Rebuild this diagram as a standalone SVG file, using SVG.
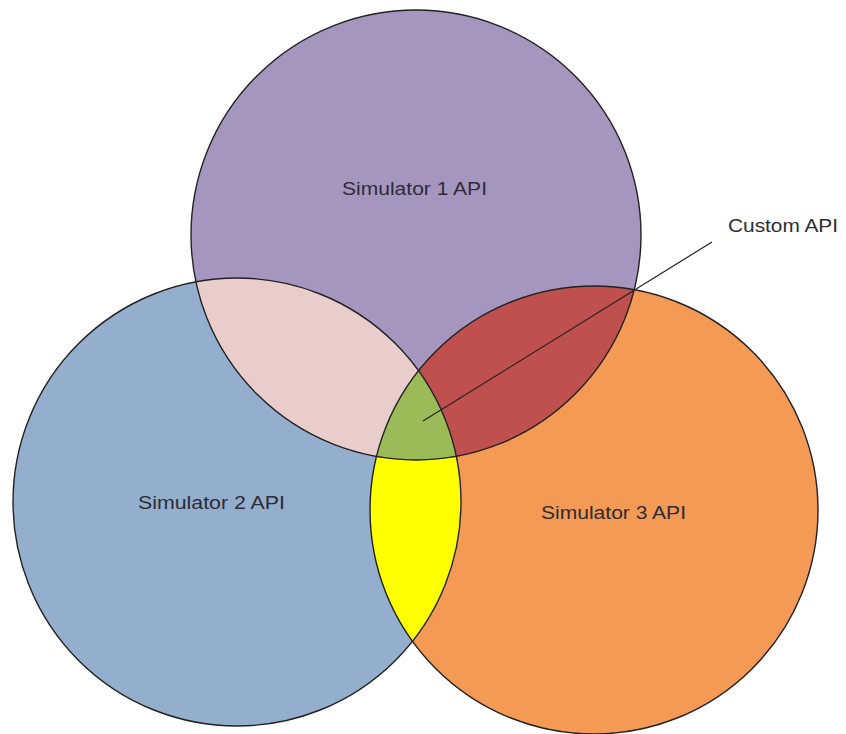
<svg xmlns="http://www.w3.org/2000/svg" width="846" height="734" viewBox="0 0 846 734">
  <style>
    .ring { fill: none; stroke: #222222; stroke-width: 1.4; }
    .label { font-family: "Liberation Sans", Arial, sans-serif; font-size: 17.5px; fill: #2c2c36; }
    .leader { stroke: #222222; stroke-width: 1.2; fill: none; }
  </style>
  <defs>
    <circle id="c1" cx="416" cy="235" r="225"/>
    <circle id="c2" cx="237" cy="502" r="224"/>
    <circle id="c3" cx="594" cy="510" r="224"/>
    <clipPath id="clip1"><use href="#c1"/></clipPath>
    <clipPath id="clip2"><use href="#c2"/></clipPath>
    <clipPath id="clip3"><use href="#c3"/></clipPath>
  </defs>
  <rect width="846" height="734" fill="#ffffff"/>

  <!-- base discs -->
  <g id="sim2">
    <use href="#c2" fill="#94AECD"/>
  </g>
  <g id="sim3">
    <use href="#c3" fill="#F49A55"/>
  </g>
  <g id="sim1">
    <use href="#c1" fill="#A696BF"/>
  </g>

  <!-- overlap regions -->
  <g id="overlap-1-2" clip-path="url(#clip1)">
    <use href="#c2" fill="#E9CDCB"/>
  </g>
  <g id="overlap-1-3" clip-path="url(#clip1)">
    <use href="#c3" fill="#C0504D"/>
  </g>
  <g id="overlap-2-3" clip-path="url(#clip2)">
    <use href="#c3" fill="#FFFF00"/>
  </g>
  <g id="custom-api" clip-path="url(#clip1)">
    <g clip-path="url(#clip2)">
      <use href="#c3" fill="#9BBB59"/>
    </g>
  </g>

  <!-- outlines -->
  <g id="outlines">
    <use href="#c1" class="ring"/>
    <use href="#c2" class="ring"/>
    <use href="#c3" class="ring"/>
  </g>

  <!-- labels -->
  <g id="sim1-label">
    <text class="label" x="414.5" y="195" text-anchor="middle" textLength="145" lengthAdjust="spacingAndGlyphs">Simulator 1 API</text>
  </g>
  <g id="sim2-label">
    <text class="label" x="211.5" y="509" text-anchor="middle" textLength="147" lengthAdjust="spacingAndGlyphs">Simulator 2 API</text>
  </g>
  <g id="sim3-label">
    <text class="label" x="613.5" y="519" text-anchor="middle" textLength="145" lengthAdjust="spacingAndGlyphs">Simulator 3 API</text>
  </g>
  <g id="custom-label">
    <text class="label" x="728" y="232" textLength="110" lengthAdjust="spacingAndGlyphs">Custom API</text>
  </g>

  <!-- connectors -->
  <g id="connectors">
    <line class="leader" x1="423" y1="421" x2="712" y2="242"/>
  </g>
</svg>
